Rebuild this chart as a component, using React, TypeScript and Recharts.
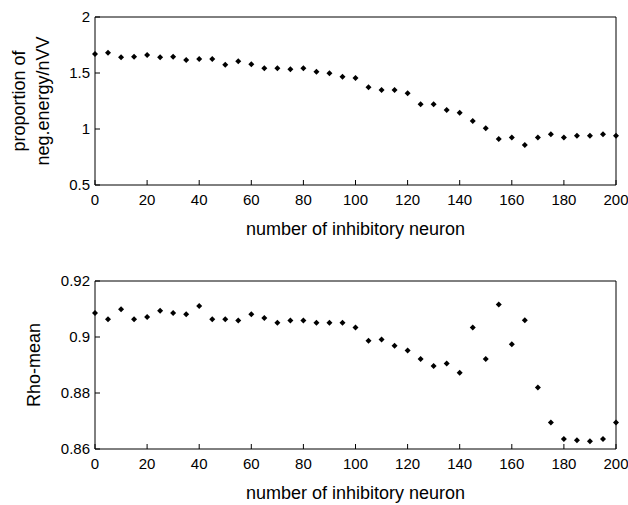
import React from 'react';
import { ScatterChart, Scatter, XAxis, YAxis, Label } from 'recharts';

// x positions (number of inhibitory neurons)
const neuronCounts = [
  0, 5, 10, 15, 20, 25, 30, 35, 40, 45, 50, 55, 60, 65, 70, 75, 80, 85, 90, 95, 100,
  105, 110, 115, 120, 125, 130, 135, 140, 145, 150, 155, 160, 165, 170, 175, 180, 185, 190, 195, 200,
];

// proportion of neg. energy / nVV
const negEnergy = [
  1.67, 1.68, 1.64, 1.646, 1.66, 1.64, 1.646, 1.616, 1.625, 1.625, 1.574, 1.604, 1.578, 1.542,
  1.542, 1.533, 1.542, 1.512, 1.497, 1.467, 1.455, 1.372, 1.348, 1.348, 1.319, 1.22, 1.22, 1.17,
  1.146, 1.071, 1.006, 0.911, 0.923, 0.857, 0.923, 0.953, 0.923, 0.94, 0.94, 0.953, 0.94,
];

// Rho-mean
const rhoMean = [
  0.9086, 0.9063, 0.9099, 0.9063, 0.9071, 0.9094, 0.9086, 0.9081, 0.9111, 0.9063, 0.9063, 0.9059,
  0.9081, 0.9068, 0.9051, 0.9059, 0.9059, 0.9051, 0.9051, 0.9051, 0.9034, 0.8987, 0.8991, 0.8969,
  0.8952, 0.8921, 0.8896, 0.8905, 0.8872, 0.9034, 0.8921, 0.9116, 0.8974, 0.906, 0.882, 0.8695,
  0.8636, 0.8631, 0.8628, 0.8636, 0.8695,
];

const xTicks = [0, 20, 40, 60, 80, 100, 120, 140, 160, 180, 200];
const topYTicks = [0.5, 1, 1.5, 2];
const bottomYTicks = [0.86, 0.88, 0.9, 0.92];

const xLabel = 'number of inhibitory neuron';
const topYLabel = ['proportion of', 'neg.energy/nVV'];
const bottomYLabel = ['Rho-mean'];

const FONT = '"Liberation Sans", Arial, sans-serif';
const TICK_LEN = 5;

const Diamond = (props: any) => {
  const { cx, cy } = props;
  if (cx == null || cy == null) return null;
  const r = 3;
  return <polygon points={`${cx},${cy - r} ${cx + r},${cy} ${cx},${cy + r} ${cx - r},${cy}`} fill="#000" />;
};

const BottomTick = (props: any) => {
  const { x, y, payload } = props;
  return (
    <g>
      <line x1={x} y1={y} x2={x} y2={y - TICK_LEN} stroke="#000" />
      <text x={x} y={y + 20} textAnchor="middle" fontSize={15} fontFamily={FONT} fill="#000">
        {payload.value}
      </text>
    </g>
  );
};

const TopTick = (props: any) => {
  const { x, y } = props;
  return <line x1={x} y1={y} x2={x} y2={y + TICK_LEN} stroke="#000" />;
};

const LeftTick = (props: any) => {
  const { x, y, payload } = props;
  return (
    <g>
      <line x1={x} y1={y} x2={x + TICK_LEN} y2={y} stroke="#000" />
      <text x={x - 5} y={y + 5} textAnchor="end" fontSize={15} fontFamily={FONT} fill="#000">
        {payload.value}
      </text>
    </g>
  );
};

const RightTick = (props: any) => {
  const { x, y } = props;
  return <line x1={x} y1={y} x2={x - TICK_LEN} y2={y} stroke="#000" />;
};

const XLabel = (props: any) => {
  const vb = props.viewBox || {};
  return (
    <text x={vb.x + vb.width / 2} y={vb.y + 50} textAnchor="middle" fontSize={18} fontFamily={FONT} fill="#000">
      {xLabel}
    </text>
  );
};

const makeYLabel = (lines: string[], xs: number[]) => (props: any) => {
  const vb = props.viewBox || {};
  const cy = vb.y + vb.height / 2;
  return (
    <g>
      {lines.map((line, i) => (
        <text
          key={i}
          x={xs[i]}
          y={cy}
          transform={`rotate(-90, ${xs[i]}, ${cy})`}
          textAnchor="middle"
          dominantBaseline="central"
          fontSize={18}
          fontFamily={FONT}
          fill="#000"
        >
          {line}
        </text>
      ))}
    </g>
  );
};

function Panel({ values, yDomain, yTicks, yLabel, labelXs, height, marginTop, marginBottom }: any) {
  const data = neuronCounts.map((n, i) => ({ n, v: values[i] }));
  return (
    <ScatterChart
      width={628}
      height={height}
      margin={{ top: marginTop, right: 11, bottom: marginBottom, left: 0 }}
    >
      <XAxis
        xAxisId="b"
        dataKey="n"
        type="number"
        domain={[0, 200]}
        ticks={xTicks}
        height={30}
        tickSize={0}
        tickMargin={0}
        tick={<BottomTick />}
        stroke="#000"
        interval={0}
      >
        <Label content={<XLabel />} />
      </XAxis>
      <XAxis
        xAxisId="t"
        orientation="top"
        type="number"
        domain={[0, 200]}
        ticks={xTicks}
        height={1}
        tickSize={0}
        tickMargin={0}
        tick={<TopTick />}
        stroke="#000"
        interval={0}
      />
      <YAxis
        yAxisId="l"
        dataKey="v"
        type="number"
        domain={yDomain}
        ticks={yTicks}
        width={95}
        tickSize={0}
        tickMargin={0}
        tick={<LeftTick />}
        stroke="#000"
        interval={0}
      >
        <Label content={makeYLabel(yLabel, labelXs)} />
      </YAxis>
      <YAxis
        yAxisId="r"
        orientation="right"
        type="number"
        domain={yDomain}
        ticks={yTicks}
        width={1}
        tickSize={0}
        tickMargin={0}
        tick={<RightTick />}
        stroke="#000"
        interval={0}
      />
      <Scatter
        data={data}
        xAxisId="b"
        yAxisId="l"
        shape={<Diamond />}
        isAnimationActive={false}
      />
    </ScatterChart>
  );
}

export default function App() {
  return (
    <div style={{ position: 'absolute', left: 0, top: 0, width: 628, height: 505, background: '#fff' }}>
      <Panel
        values={negEnergy}
        yDomain={[0.5, 2]}
        yTicks={topYTicks}
        yLabel={topYLabel}
        labelXs={[19, 43]}
        height={250}
        marginTop={16}
        marginBottom={35}
      />
      <Panel
        values={rhoMean}
        yDomain={[0.86, 0.92]}
        yTicks={bottomYTicks}
        yLabel={bottomYLabel}
        labelXs={[34]}
        height={255}
        marginTop={30}
        marginBottom={26}
      />
    </div>
  );
}
